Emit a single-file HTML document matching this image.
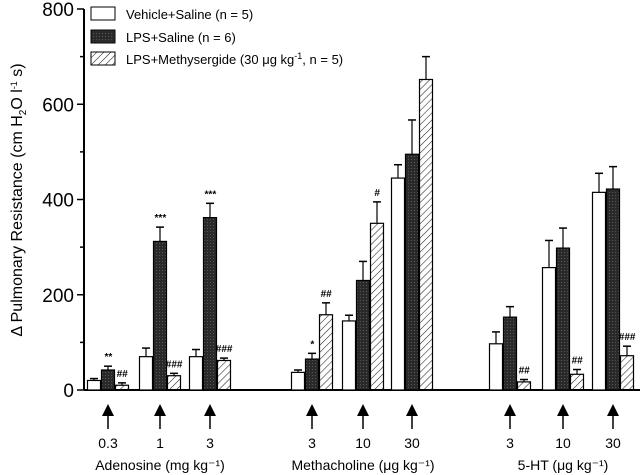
<!DOCTYPE html>
<html><head><meta charset="utf-8">
<style>
body{margin:0;background:#fff;}
svg{display:block;font-family:"Liberation Sans",Arial,sans-serif;}
</style></head><body>
<svg id="chart" width="640" height="475" viewBox="0 0 640 475">
<defs>
<pattern id="hatch" patternUnits="userSpaceOnUse" width="5" height="5" patternTransform="rotate(45)">
<line x1="0" y1="0" x2="0" y2="5" stroke="#222" stroke-width="1.1"/>
</pattern>
<pattern id="dark" patternUnits="userSpaceOnUse" width="3" height="3">
<rect width="3" height="3" fill="#2a2a2a"/><rect width="1" height="1" fill="#555"/>
</pattern>
<marker id="ah" markerWidth="8" markerHeight="8" refX="4" refY="4" orient="auto">
<path d="M0,0 L8,4 L0,8 z" fill="#000"/>
</marker>
</defs>
<g id="plot"></g>
<text transform="translate(22,200) rotate(-90)" text-anchor="middle" font-size="16">Δ Pulmonary Resistance (cm H<tspan font-size="10" dy="4">2</tspan><tspan dy="-4">O l</tspan><tspan font-size="9" dy="-5">-1</tspan><tspan dy="5"> s)</tspan></text>
<g font-size="13">
<rect x="91" y="7" width="24" height="13" fill="#fff" stroke="#000"/>
<text x="126" y="19">Vehicle+Saline (n = 5)</text>
<rect x="91" y="30" width="24" height="13" fill="url(#dark)" stroke="#000"/>
<text x="126" y="42">LPS+Saline (n = 6)</text>
<rect x="91" y="52" width="24" height="13" fill="url(#hatch)" stroke="#000"/>
<text x="126" y="64">LPS+Methysergide (30 μg kg<tspan font-size="9" dy="-5">-1</tspan><tspan dy="5">, n = 5)</tspan></text>
</g>
</svg>
<script>
const groupCenters = [108,160,210,312,363,412,510,563,613];
const doseLabels = ["0.3","1","3","3","10","30","3","10","30"];
const vehicle = [20,70,70,37,145,445,97,257,415];
const vehicleErr = [4,18,15,5,12,28,25,57,40];
const lps = [42,312,362,65,230,495,153,298,422];
const lpsErr = [8,30,30,12,40,72,22,42,47];
const methy = [10,30,62,158,350,652,17,33,72];
const methyErr = [5,5,5,25,45,48,5,10,20];
const lpsSig = ["**","***","***","*","","","","",""];
const methySig = ["##","###","###","##","#","","##","##","###"];
const yTicks = [0,200,400,600,800];
const yMinor = [100,300,500,700];
const agentLabels = ["Adenosine (mg kg⁻¹)","Methacholine (μg kg⁻¹)","5-HT (μg kg⁻¹)"];
const agentX = [160,363,563];

const NS="http://www.w3.org/2000/svg";
const g=document.getElementById('plot');
const y0=390, yTop=9, yMax=800, axisX=84, bw=13;
const Y=v=>y0-(v/yMax)*(y0-yTop);
function mk(t,a){const e=document.createElementNS(NS,t);for(const k in a)e.setAttribute(k,a[k]);g.appendChild(e);return e;}

let ax=mk('line',{x1:axisX,y1:yTop,x2:axisX,y2:y0,stroke:'#000','stroke-width':2});


let xa=mk('line',{x1:axisX,y1:y0,x2:640,y2:y0,stroke:'#000','stroke-width':2});


yTicks.forEach(v=>{
  mk('line',{x1:axisX-7,y1:Y(v),x2:axisX,y2:Y(v),stroke:'#000','stroke-width':1.5});
  const t=mk('text',{x:axisX-10,y:Y(v)+7,'text-anchor':'end','font-size':19});
  t.textContent=v;
  
  
});
yMinor.forEach(v=>mk('line',{x1:axisX-4,y1:Y(v),x2:axisX,y2:Y(v),stroke:'#000','stroke-width':1.5}));

function bar(x,v,e,fill,name,sig){
  const r=mk('rect',{x:x,y:Y(v),width:bw,height:y0-Y(v),fill:fill,stroke:'#000','stroke-width':1.2});
  
  
  const cx=x+bw/2;
  mk('line',{x1:cx,y1:Y(v),x2:cx,y2:Y(v+e),stroke:'#000','stroke-width':1.2});
  mk('line',{x1:cx-4,y1:Y(v+e),x2:cx+4,y2:Y(v+e),stroke:'#000','stroke-width':1.5});
  if(sig){const t=mk('text',{x:cx,y:Y(v+e)-6,'text-anchor':'middle','font-size':10,'font-weight':'bold','font-style':'italic'});t.textContent=sig;
    
    }
}
groupCenters.forEach((c,i)=>{
  bar(c-bw*1.5-1,vehicle[i],vehicleErr[i],'#fff','bar-vehicle','');
  bar(c-bw/2,lps[i],lpsErr[i],'url(#dark)','bar-lps',lpsSig[i]);
  bar(c+bw/2+1,methy[i],methyErr[i],'url(#hatch)','bar-methysergide',methySig[i]);
  const a=mk('line',{x1:c,y1:429,x2:c,y2:410,stroke:'#000','stroke-width':1.5,'marker-end':'url(#ah)'});
  
  
  const t=mk('text',{x:c,y:448,'text-anchor':'middle','font-size':14});t.textContent=doseLabels[i];
  
  
});
agentLabels.forEach((l,i)=>{
  const t=mk('text',{x:agentX[i],y:470,'text-anchor':'middle','font-size':14});t.textContent=l;
  
  
});
</script>
</body></html>
